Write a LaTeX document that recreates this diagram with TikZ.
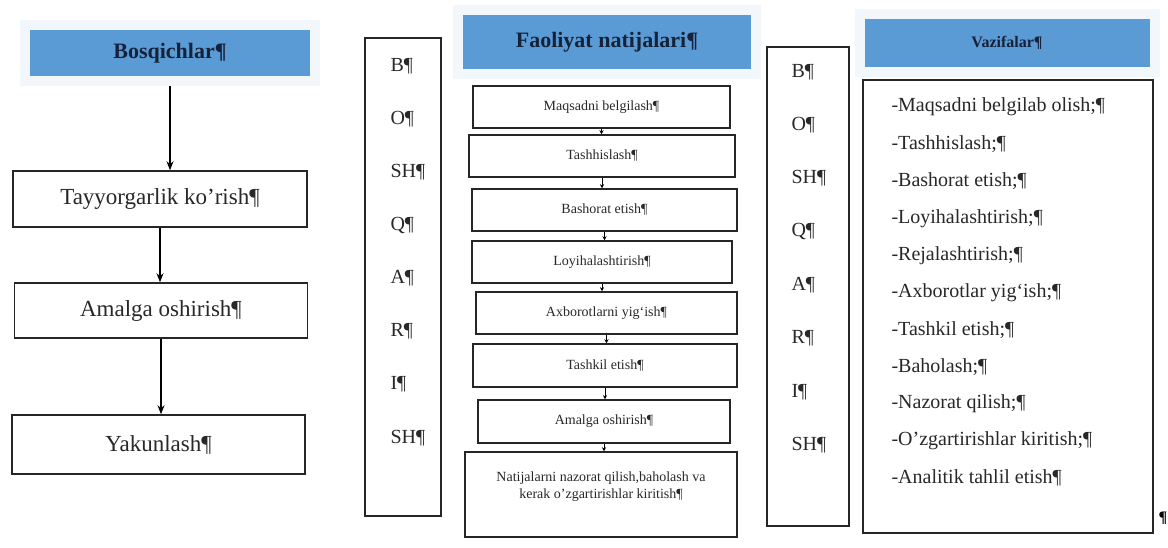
\documentclass[tikz,border=0pt]{standalone}
\usepackage{fontspec}
\setmainfont{Liberation Serif}
\usetikzlibrary{positioning,arrows.meta,shadows}
\definecolor{headblue}{RGB}{91,155,213}
\definecolor{headframe}{RGB}{242,247,252}
\definecolor{headink}{RGB}{22,34,58}
\definecolor{inkgray}{RGB}{40,40,40}
\newcommand{\txtsize}[1]{\fontsize{#1}{#1}\selectfont}

\begin{document}
\begin{tikzpicture}[x=1pt,y=-1pt,
    head/.style={rectangle,fill=headblue,draw=headframe,line width=10pt,
        drop shadow={shadow xshift=1pt,shadow yshift=-3pt,opacity=.35},
        text=headink,font=\bfseries},
    stage/.style={rectangle,draw=black!85,line width=1.5pt,fill=white,
        text=inkgray,inner sep=0pt},
    column/.style={rectangle,draw=black!85,line width=1.5pt,inner sep=0pt},
    flow/.style={-{Stealth[length=9pt,width=7pt]},line width=1.4pt},
    tinyarr/.style={-{Stealth[length=4pt,width=4pt]},line width=1pt}]
            \fill[white] (0,0) rectangle (1168,547);
            \useasboundingbox (0,0) rectangle (1168,547);
            \node[head,minimum width=290,minimum height=56] (Bosq) at (170,53) {\txtsize{22}Bosqichlar¶};
            \node[stage,minimum width=294,minimum height=56] (Tayy) at (160,199) {\txtsize{23}Tayyorgarlik ko’rish¶};
            \node[stage,minimum width=293,minimum height=55] (Amal) at (161,310.5) {\txtsize{23}Amalga oshirish¶};
            \node[stage,minimum width=293,minimum height=59] (Yakun) at (158.5,444.5) {\txtsize{23}Yakunlash¶};
            \path[flow]
            (Bosq.south) edge (Bosq.south |- Tayy.north)
            (Tayy.south) edge (Tayy.south |- Amal.north)
            (Amal.south) edge (Amal.south |- Yakun.north);

            \node[column,minimum width=76,minimum height=478] (Harf_1) at (403,277) {};
            \node[column,minimum width=82,minimum height=479] (Harf_2) at (808,286.5) {};
            \foreach \h [count=\i from 0] in {B,O,SH,Q,A,R,I,SH} {
                \node[anchor=west,text=inkgray,font=\txtsize{20}] (H_1_\i) at (387,66+53.1*\i) {\h¶};
                \node[anchor=west,text=inkgray,font=\txtsize{20}] (H_2_\i) at (788,72+53.3*\i) {\h¶};
            }

            \node[head,minimum width=298,minimum height=64] (Faol) at (607,42) {\txtsize{22}Faoliyat natijalari¶};
            \node[stage,minimum width=257,minimum height=42,font=\txtsize{14}] (N_1) at (601.5,107) {Maqsadni belgilash¶};
            \node[stage,minimum width=266,minimum height=42,font=\txtsize{14}] (N_2) at (602,156) {Tashhislash¶};
            \node[stage,minimum width=265,minimum height=42,font=\txtsize{14}] (N_3) at (604.5,210) {Bashorat etish¶};
            \node[stage,minimum width=260,minimum height=42,font=\txtsize{14}] (N_4) at (602,262) {Loyihalashtirish¶};
            \node[stage,minimum width=261,minimum height=42,font=\txtsize{14}] (N_5) at (606.5,313) {Axborotlarni yig‘ish¶};
            \node[stage,minimum width=264,minimum height=43,font=\txtsize{14}] (N_6) at (605,365.5) {Tashkil etish¶};
            \node[stage,minimum width=252,minimum height=43,font=\txtsize{14}] (N_7) at (604,421.5) {Amalga oshirish¶};
            \node[stage,minimum width=272,minimum height=85] (N_8) at (601,494.5) {};
            \node[text=inkgray,align=center,font=\txtsize{14}] (N_8_t) at (601,487) {Natijalarni nazorat qilish,baholash va\\[3pt]kerak o’zgartirishlar kiritish¶};
            \path[tinyarr]
            (N_1.south) edge (N_1.south |- N_2.north)
            (N_2.south) edge (N_2.south |- N_3.north)
            (N_3.south) edge (N_3.south |- N_4.north)
            (N_4.south) edge (N_4.south |- N_5.north)
            (N_5.south) edge (N_5.south |- N_6.north)
            (N_6.south) edge (N_6.south |- N_7.north)
            (N_7.south) edge (N_7.south |- N_8.north);

            \node[head,minimum width=295,minimum height=58] (Vazi) at (1007,43) {\txtsize{16}Vazifalar¶};
            \node[column,minimum width=290,minimum height=453] (Vlist) at (1008,306.5) {};
            \foreach \v [count=\i from 0] in {-Maqsadni belgilab olish;¶,-Tashhislash;¶,-Bashorat etish;¶,-Loyihalashtirish;¶,-Rejalashtirish;¶,-Axborotlar yig‘ish;¶,-Tashkil etish;¶,-Baholash;¶,-Nazorat qilish;¶,-O’zgartirishlar kiritish;¶,-Analitik tahlil etish¶}
                \node[anchor=west,text=inkgray,font=\txtsize{20}] (V_\i) at (888,107+37.1*\i) {\v};
            \node[font=\bfseries\txtsize{16}] (Pilcrow) at (1163,518) {¶};
        \end{tikzpicture}
\end{document}
